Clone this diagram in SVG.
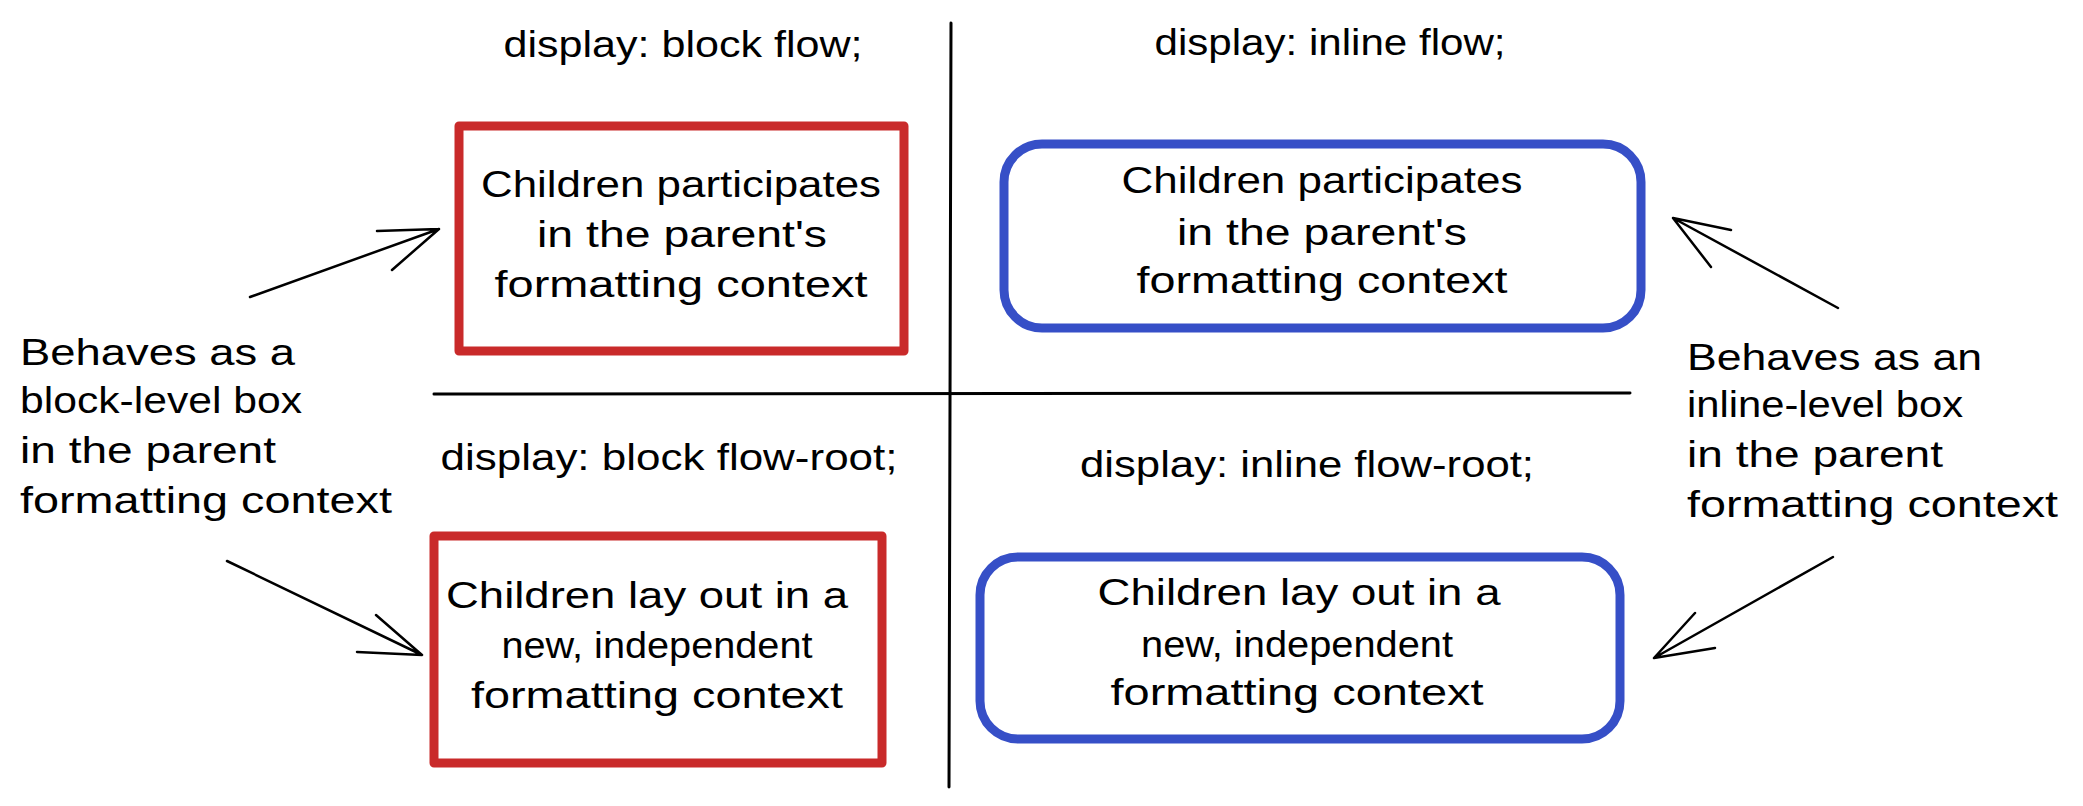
<svg xmlns="http://www.w3.org/2000/svg" width="2083" height="806" viewBox="0 0 2083 806">
  <defs>
    <style>
      text { font-family: "Liberation Sans", Arial, sans-serif; font-size: 37px; fill: #000; }
      .mid { text-anchor: middle; }
      .red { fill: none; stroke: #c92a2a; stroke-width: 9; stroke-linejoin: round; stroke-linecap: round; }
      .blue { fill: none; stroke: #364fc7; stroke-width: 9; }
      .axis { stroke: #000; stroke-width: 3; fill: none; stroke-linecap: round; }
      .arrow { stroke: #000; stroke-width: 2.5; fill: none; stroke-linecap: round; stroke-linejoin: round; }
    </style>
  </defs>
  <rect width="2083" height="806" fill="#fff"/>

  <g id="axes" class="connectors-axes">
    <line class="axis" x1="951" y1="23" x2="949" y2="787"/>
    <line class="axis" x1="434" y1="394" x2="1630" y2="393"/>
  </g>

  <g id="title-block-flow">
    <text class="mid" x="683" y="57" textLength="359" lengthAdjust="spacingAndGlyphs">display: block flow;</text>
  </g>
  <g id="title-inline-flow">
    <text class="mid" x="1330" y="55" textLength="351" lengthAdjust="spacingAndGlyphs">display: inline flow;</text>
  </g>
  <g id="title-block-flow-root">
    <text class="mid" x="669" y="470" textLength="457" lengthAdjust="spacingAndGlyphs">display: block flow-root;</text>
  </g>
  <g id="title-inline-flow-root">
    <text class="mid" x="1307" y="477" textLength="454" lengthAdjust="spacingAndGlyphs">display: inline flow-root;</text>
  </g>

  <g id="box-block-flow">
    <rect class="red" x="459" y="126" width="445" height="225"/>
    <text class="mid" x="681" y="197" textLength="400" lengthAdjust="spacingAndGlyphs">Children participates</text>
    <text class="mid" x="682" y="247" textLength="290" lengthAdjust="spacingAndGlyphs">in the parent's</text>
    <text class="mid" x="681" y="297" textLength="373" lengthAdjust="spacingAndGlyphs">formatting context</text>
  </g>

  <g id="box-inline-flow">
    <rect class="blue" x="1004" y="144" width="637" height="184" rx="38" ry="38"/>
    <text class="mid" x="1322" y="193" textLength="401" lengthAdjust="spacingAndGlyphs">Children participates</text>
    <text class="mid" x="1322" y="245" textLength="290" lengthAdjust="spacingAndGlyphs">in the parent's</text>
    <text class="mid" x="1322" y="293" textLength="371" lengthAdjust="spacingAndGlyphs">formatting context</text>
  </g>

  <g id="box-block-flow-root">
    <rect class="red" x="434" y="536" width="448" height="227"/>
    <text class="mid" x="647" y="608" textLength="402" lengthAdjust="spacingAndGlyphs">Children lay out in a</text>
    <text class="mid" x="657" y="658" textLength="311" lengthAdjust="spacingAndGlyphs">new, independent</text>
    <text class="mid" x="657" y="708" textLength="372" lengthAdjust="spacingAndGlyphs">formatting context</text>
  </g>

  <g id="box-inline-flow-root">
    <rect class="blue" x="980" y="557" width="640" height="182" rx="38" ry="38"/>
    <text class="mid" x="1299" y="605" textLength="403" lengthAdjust="spacingAndGlyphs">Children lay out in a</text>
    <text class="mid" x="1297" y="657" textLength="312" lengthAdjust="spacingAndGlyphs">new, independent</text>
    <text class="mid" x="1297" y="705" textLength="373" lengthAdjust="spacingAndGlyphs">formatting context</text>
  </g>

  <g id="note-block-level">
    <text x="20" y="365" textLength="275" lengthAdjust="spacingAndGlyphs">Behaves as a</text>
    <text x="20" y="413" textLength="282" lengthAdjust="spacingAndGlyphs">block-level box</text>
    <text x="20" y="463" textLength="256" lengthAdjust="spacingAndGlyphs">in the parent</text>
    <text x="20" y="513" textLength="372" lengthAdjust="spacingAndGlyphs">formatting context</text>
  </g>

  <g id="note-inline-level">
    <text x="1687" y="370" textLength="295" lengthAdjust="spacingAndGlyphs">Behaves as an</text>
    <text x="1687" y="417" textLength="276" lengthAdjust="spacingAndGlyphs">inline-level box</text>
    <text x="1687" y="467" textLength="256" lengthAdjust="spacingAndGlyphs">in the parent</text>
    <text x="1687" y="517" textLength="371" lengthAdjust="spacingAndGlyphs">formatting context</text>
  </g>

  <g id="connectors">
    <path class="arrow" d="M250 297 L439 229 M377 231 L439 229 L392 270"/>
    <path class="arrow" d="M227 561 L422 655 M376 615 L422 655 L357 652"/>
    <path class="arrow" d="M1838 308 L1673 218 M1731 230 L1673 218 L1711 267"/>
    <path class="arrow" d="M1833 557 L1654 658 M1695 613 L1654 658 L1715 648"/>
  </g>
</svg>
